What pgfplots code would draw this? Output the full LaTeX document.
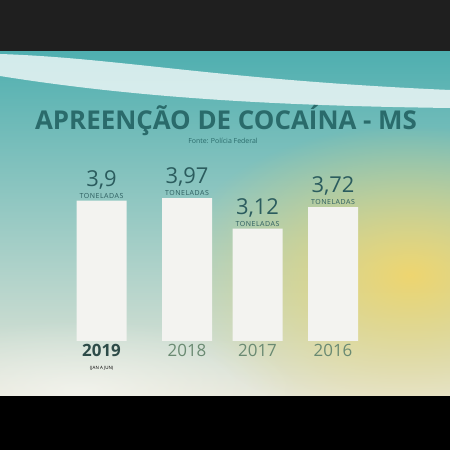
\documentclass[border=0pt]{standalone}
\usepackage{pgfplots}
\pgfplotsset{compat=1.18}
\usepackage{fontspec}
\setmainfont{Open Sans}
\usetikzlibrary{fadings}
\tikzfading[name=softc, inner color=transparent!0, outer color=transparent!100]
\definecolor{titlecol}{HTML}{2A6B6B}
\definecolor{numcol}{HTML}{2B5C5E}
\definecolor{yrA}{HTML}{2D4B48}
\definecolor{yrB}{HTML}{6A8A72}
\definecolor{bgtop}{HTML}{4FAFB0}
\definecolor{bgmid}{HTML}{8FC5B8}
\definecolor{bgbot}{HTML}{E6E6D8}
\definecolor{yel}{HTML}{EED670}
\definecolor{barcol}{HTML}{F3F3F0}
\begin{document}
\begin{tikzpicture}[x=1bp,y=1bp]
% frame
\fill[black!88] (0,398) rectangle (450,450);
\fill[black] (0,0) rectangle (450,54);
% screen background
\begin{scope}
\clip (0,54) rectangle (450,398);
\shade[top color=bgtop, middle color=bgmid, bottom color=bgbot] (0,54) rectangle (450,398);
\fill[yel, fill opacity=1, path fading=softc, fit fading=true] (410,175) ellipse (240 and 150);
\fill[white, fill opacity=0.5, path fading=softc, fit fading=true] (80,60) ellipse (220 and 70);
% swoosh
\fill[white, fill opacity=0.75] (0,396) .. controls (120,392) and (220,370) .. (450,360)
  -- (450,342) .. controls (300,344) and (150,350) .. (0,374) -- cycle;
\end{scope}
% titles
\node[font=\bfseries\fontsize{26}{26}\selectfont, text=titlecol, anchor=base, inner sep=0pt] at (226,320) {APREENÇÃO DE COCAÍNA - MS};
\node[font=\fontsize{7}{8}\selectfont, text=titlecol, anchor=base, inner sep=0pt] at (223,306) {Fonte: Polícia Federal};
\begin{axis}[at={(0,0)}, anchor=south west, width=450bp, height=450bp, scale only axis,
  xmin=0, xmax=450, ymin=-3.02778, ymax=9.47222,
  axis lines=middle, axis line style={draw=none,-},
  ytick=\empty, xtick=data, major tick length=0pt,
  xticklabels={{\bfseries\color{yrA}2019\\[-5pt]\fontsize{4.5}{5}\selectfont(JAN A JUN)},{\color{yrB}2018},{\color{yrB}2017},{\color{yrB}2016}},
  x tick label style={align=center, anchor=north, inner sep=0pt, yshift=-3bp, font=\fontsize{17}{18}\selectfont},
  ybar, bar width=50bp,
  nodes near coords={\fontsize{22}{22}\selectfont\pgfmathprintnumber[use comma,fixed,precision=2,assume math mode=true]{\pgfplotspointmeta}\\[0pt]\fontsize{7}{7}\selectfont\addfontfeatures{LetterSpace=8}TONELADAS},
  every node near coord/.append style={align=center, text=numcol, inner sep=0pt, yshift=2bp},
  clip=false]
\addplot[fill=barcol, draw=none] coordinates {(101.5,3.9) (187,3.97) (257.5,3.12) (333,3.72)};
\end{axis}
\pgfresetboundingbox
\path (0,0) rectangle (450,450);
\end{tikzpicture}
\end{document}
